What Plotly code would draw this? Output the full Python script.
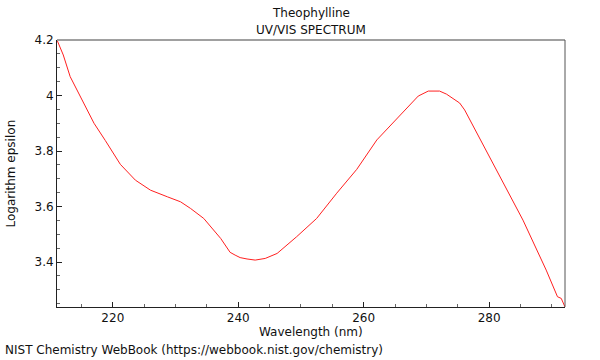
import plotly.graph_objects as go

wavelength = [211.1, 212.1, 213.2, 215.3, 217.0, 218.8, 221.2, 223.6, 226.0, 228.7,
              230.8, 232.4, 234.5, 237.2, 238.7, 239.5, 240.3, 241.4, 242.7, 244.3,
              246.2, 249.3, 252.5, 255.7, 258.9, 262.1, 265.3, 268.7, 270.3, 272.1,
              273.2, 275.3, 276.1, 282.0, 285.4, 289.1, 290.9, 291.5, 292.1]
log_eps = [4.200, 4.146, 4.068, 3.978, 3.900, 3.838, 3.752, 3.695, 3.659, 3.635,
           3.617, 3.593, 3.557, 3.485, 3.435, 3.425, 3.416, 3.411, 3.407, 3.413,
           3.431, 3.491, 3.557, 3.648, 3.734, 3.840, 3.918, 3.998, 4.016, 4.016,
           4.005, 3.973, 3.948, 3.696, 3.551, 3.371, 3.275, 3.269, 3.238]

xtick_vals = [220, 240, 260, 280]
ytick_vals = [3.4, 3.6, 3.8, 4.0, 4.2]
ytick_text = ["3.4", "3.6", "3.8", "4", "4.2"]

fig = go.Figure()
fig.add_trace(go.Scatter(x=wavelength, y=log_eps, mode="lines",
                         line=dict(color="#ff2020", width=1), hoverinfo="skip"))

font = dict(family="DejaVu Sans", size=12, color="#111")
PW, PH = 508.0, 267.0  # plot size in px
fig.update_layout(
    width=600, height=360,
    margin=dict(l=57, r=35, t=40, b=53, autoexpand=False),
    paper_bgcolor="white", plot_bgcolor="white",
    showlegend=False,
    font=font,
    xaxis=dict(range=[211.1, 292.1], tickvals=xtick_vals, ticks="inside", ticklen=5,
               tickcolor="#222", showgrid=False, zeroline=False, showline=True,
               linecolor="#222", linewidth=1, automargin=False,
               minor=dict(dtick=5, tick0=0, ticks="inside", ticklen=3, tickcolor="#666", showgrid=False),
               tickfont=font),
    yaxis=dict(range=[3.238, 4.2], tickvals=ytick_vals, ticktext=ytick_text, ticks="inside",
               ticklen=5, tickcolor="#222", showgrid=False, zeroline=False, showline=True,
               linecolor="#222", linewidth=1, automargin=False,
               minor=dict(dtick=0.05, tick0=0, ticks="inside", ticklen=3, tickcolor="#666", showgrid=False),
               tickfont=font),
    shapes=[
        dict(type="line", xref="paper", yref="paper", x0=0, x1=1, y0=1, y1=1,
             line=dict(color="#a0a0a0", width=2)),
        dict(type="line", xref="paper", yref="paper", x0=1, x1=1, y0=0, y1=1,
             line=dict(color="#555", width=1)),
    ],
    annotations=[
        dict(text="Theophylline", xref="paper", yref="paper", x=0.5, y=1 + 27/PH,
             xanchor="center", yanchor="middle", showarrow=False, font=font),
        dict(text="UV/VIS SPECTRUM", xref="paper", yref="paper", x=0.5, y=1 + 10/PH,
             xanchor="center", yanchor="middle", showarrow=False, font=font),
        dict(text="Wavelength (nm)", xref="paper", yref="paper", x=0.5, y=-25/PH,
             xanchor="center", yanchor="middle", showarrow=False, font=font),
        dict(text="Logarithm epsilon", xref="paper", yref="paper", x=-47/PW, y=0.5,
             xanchor="center", yanchor="middle", textangle=-90, showarrow=False, font=font),
        dict(text="NIST Chemistry WebBook (https://webbook.nist.gov/chemistry)",
             xref="paper", yref="paper", x=-57/PW, y=-53/PH, xanchor="left", yanchor="bottom",
             xshift=3, yshift=1, showarrow=False, font=font),
    ],
)
fig.write_html("out.html", config={"displayModeBar": False},
               post_script="document.body.style.margin='0';document.body.style.overflow='hidden';")
